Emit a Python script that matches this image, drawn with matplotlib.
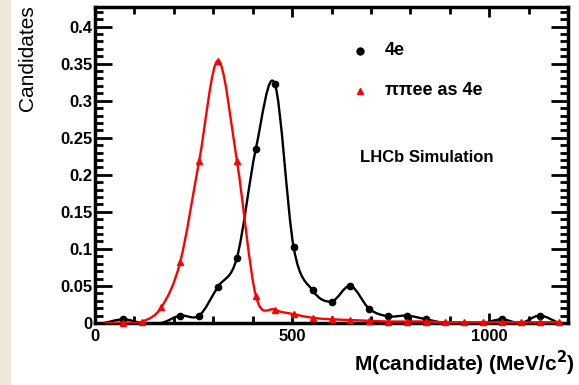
import matplotlib
matplotlib.use("Agg")
import matplotlib.pyplot as plt
import numpy as np
from matplotlib.path import Path
from matplotlib.patches import PathPatch, Rectangle
from matplotlib.ticker import MultipleLocator

plt.rcParams["font.family"] = ["Liberation Sans", "DejaVu Sans"]

# bin centres (MeV/c^2), 25 bins over 0-1200
mass = [24, 72, 120, 168, 216, 264, 312, 360, 408, 456, 504, 552, 600,
        648, 696, 744, 792, 840, 888, 936, 984, 1032, 1080, 1128, 1176]

# 4e candidates
cand_4e = [0.0, 0.005, 0.0, 0.0, 0.010, 0.010, 0.049, 0.088, 0.235, 0.323,
           0.102, 0.044, 0.029, 0.050, 0.019, 0.009, 0.010, 0.005, 0.0,
           0.0, 0.0, 0.005, 0.0, 0.010, 0.0]

# pi pi e e reconstructed as 4e
cand_ppee = [0.0, 0.0005, 0.002, 0.021, 0.082, 0.218, 0.354, 0.219, 0.037,
             0.018, 0.012, 0.007, 0.005, 0.004, 0.003, 0.002, 0.002, 0.002,
             0.001, 0.001, 0.001, 0.001, 0.001, 0.001, 0.001]

RED = "#FF0000"


def smooth_path(xs, ys):
    """Smooth connector through the points as a Bezier path (like ROOT 'C')."""
    pts = list(zip(xs, ys))
    verts = [pts[0]]
    codes = [Path.MOVETO]
    n = len(pts)
    for i in range(n - 1):
        p0 = pts[i - 1] if i > 0 else pts[i]
        p1 = pts[i]
        p2 = pts[i + 1]
        p3 = pts[i + 2] if i + 2 < n else pts[i + 1]
        c1 = (p1[0] + (p2[0] - p0[0]) / 6, p1[1] + (p2[1] - p0[1]) / 6)
        c2 = (p2[0] - (p3[0] - p1[0]) / 6, p2[1] - (p3[1] - p1[1]) / 6)
        verts += [c1, c2, p2]
        codes += [Path.CURVE4] * 3
    return Path(verts, codes)


fig = plt.figure(figsize=(5.79, 3.85), dpi=100)
fig.patches.append(Rectangle((0, 0), 11 / 579, 1, transform=fig.transFigure,
                             facecolor="#EEE8D8", edgecolor="none", zorder=0))
ax = fig.add_axes([95 / 579, 1 - 323 / 385, 473 / 579, 316 / 385])

# empty bins get no marker
m = np.array(mass)
y4 = np.array(cand_4e)
yp = np.array(cand_ppee)

ax.add_patch(PathPatch(smooth_path(mass, cand_4e), fill=False,
                       edgecolor="black", lw=1.7, zorder=3))
ax.plot(m[y4 > 0], y4[y4 > 0], "o", color="black", ms=4.5, zorder=4,
        clip_on=False)
ax.add_patch(PathPatch(smooth_path(mass, cand_ppee), fill=False,
                       edgecolor=RED, lw=1.7, zorder=5))
ax.plot(m[yp > 0], yp[yp > 0], "^", color=RED, ms=4, zorder=6,
        clip_on=False)

ax.set_xlim(0, 1200)
ax.set_ylim(0, 0.4265)

ax.xaxis.set_minor_locator(MultipleLocator(100))
ax.yaxis.set_minor_locator(MultipleLocator(0.01))
ax.set_yticks([0, 0.05, 0.1, 0.15, 0.2, 0.25, 0.3, 0.35, 0.4])
ax.set_yticklabels(["0", "0.05", "0.1", "0.15", "0.2", "0.25", "0.3", "0.35", "0.4"])
ax.set_xticks([0, 500, 1000])
ax.set_xticklabels(["0", "500", "1000"])

ax.tick_params(which="both", direction="in", top=True, right=True, width=2,
               labelsize=12)
ax.tick_params(which="major", axis="y", length=12)
ax.tick_params(which="minor", axis="y", length=6)
ax.tick_params(which="major", axis="x", length=7)
ax.tick_params(which="minor", axis="x", length=5)
ax.tick_params(axis="x", pad=4)
ax.tick_params(axis="y", pad=2)
for lab in ax.get_xticklabels() + ax.get_yticklabels():
    lab.set_fontweight("bold")
for sp in ax.spines.values():
    sp.set_linewidth(2.5)

fig.text(27 / 579, 1 - 58 / 385, "Candidates", rotation=90, fontsize=15,
         ha="center", va="center")
fig.text(575 / 579, 1 - 363 / 385, "M(candidate) (MeV/c$^\\mathbf{2}$)",
         fontsize=15, fontweight="bold", ha="right", va="center")

# legend drawn by hand
ax.plot([0.56], [0.862], "o", color="black", ms=5, transform=ax.transAxes)
ax.text(0.613, 0.862, "4e", transform=ax.transAxes, fontsize=13,
        fontweight="bold", va="center")
ax.plot([0.56], [0.735], "^", color=RED, ms=4.5, transform=ax.transAxes)
ax.text(0.613, 0.735, "ππee as 4e", transform=ax.transAxes, fontsize=13,
        fontweight="bold", va="center")

ax.text(0.56, 0.525, "LHCb Simulation", transform=ax.transAxes,
        fontsize=12, fontweight="bold", va="center")

fig.savefig("out.png", dpi=100)
